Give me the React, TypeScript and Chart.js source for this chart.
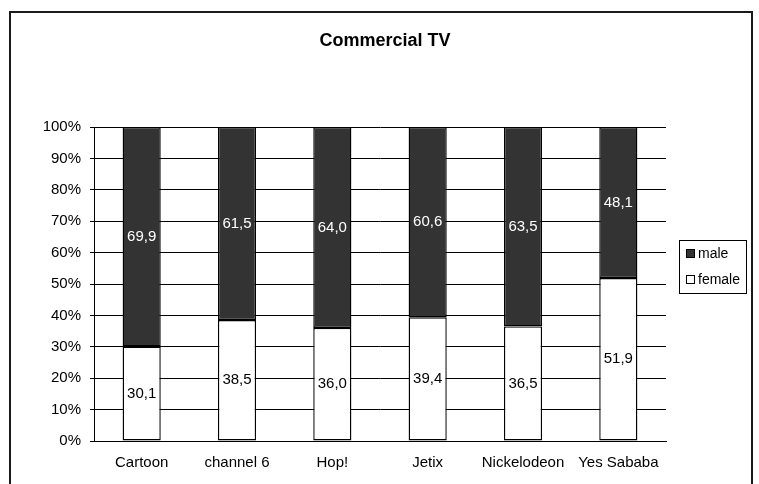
import React, { useEffect, useRef } from "react";
import { Chart, registerables } from "chart.js";

Chart.register(...registerables);

const title = "Commercial TV";
const categories = ["Cartoon", "channel 6", "Hop!", "Jetix", "Nickelodeon", "Yes Sababa"];
const femaleValues = [30.1, 38.5, 36.0, 39.4, 36.5, 51.9];
const maleValues = [69.9, 61.5, 64.0, 60.6, 63.5, 48.1];
const yTickValues = [0, 10, 20, 30, 40, 50, 60, 70, 80, 90, 100];

const FONT = "'Liberation Sans', Arial, sans-serif";

const framePlugin = {
  id: "frame",
  beforeDraw(chart: any) {
    const ctx = chart.ctx;
    ctx.save();
    ctx.fillStyle = "#ffffff";
    ctx.fillRect(0, 0, chart.width, chart.height);
    ctx.strokeStyle = "#1a1a1a";
    ctx.lineWidth = 2;
    ctx.strokeRect(10, 12, 742, 500);
    ctx.restore();
  },
};

const titlePlugin = {
  id: "customTitle",
  afterDraw(chart: any) {
    const ctx = chart.ctx;
    ctx.save();
    ctx.font = `bold 18px ${FONT}`;
    ctx.fillStyle = "#000";
    ctx.textAlign = "center";
    ctx.textBaseline = "alphabetic";
    ctx.fillText(title, 385, 46);
    ctx.restore();
  },
};

const valueLabelPlugin = {
  id: "valueLabels",
  afterDatasetsDraw(chart: any) {
    const ctx = chart.ctx;
    ctx.save();
    ctx.font = `15px ${FONT}`;
    ctx.textAlign = "center";
    ctx.textBaseline = "middle";
    chart.data.datasets.forEach((ds: any, di: number) => {
      const meta = chart.getDatasetMeta(di);
      meta.data.forEach((el: any, i: number) => {
        const v = ds.data[i] as number;
        const y = (el.y + el.base) / 2;
        ctx.fillStyle = ds.labelColor;
        ctx.fillText(v.toFixed(1).replace(".", ","), el.x, y);
      });
    });
    ctx.restore();
  },
};

const legendPlugin = {
  id: "customLegend",
  afterDraw(chart: any) {
    const ctx = chart.ctx;
    ctx.save();
    ctx.strokeStyle = "#000";
    ctx.lineWidth = 1;
    ctx.strokeRect(679.5, 240.5, 67, 53);
    const items = [...chart.data.datasets].reverse();
    ctx.font = `14px ${FONT}`;
    ctx.textBaseline = "middle";
    ctx.textAlign = "left";
    items.forEach((ds: any, i: number) => {
      const cy = 254 + i * 26;
      ctx.fillStyle = ds.backgroundColor;
      ctx.fillRect(686.5, cy - 4.5, 8, 8);
      ctx.strokeStyle = "#000";
      ctx.strokeRect(686.5, cy - 4.5, 8, 8);
      ctx.fillStyle = "#000";
      ctx.fillText(ds.label, 698, cy);
    });
    ctx.restore();
  },
};

export default function App() {
  const canvasRef = useRef<HTMLCanvasElement | null>(null);

  useEffect(() => {
    if (!canvasRef.current) return;
    Chart.defaults.font.family = FONT;
    const chart = new Chart(canvasRef.current, {
      type: "bar",
      data: {
        labels: categories,
        datasets: [
          {
            label: "female",
            data: femaleValues,
            backgroundColor: "#ffffff",
            borderColor: "#000000",
            borderWidth: 1.4,
            borderSkipped: false,
            barPercentage: 0.4,
            categoryPercentage: 1,
            labelColor: "#000000",
          } as any,
          {
            label: "male",
            data: maleValues,
            backgroundColor: "#333333",
            borderColor: "#000000",
            borderWidth: 1.4,
            borderSkipped: false,
            barPercentage: 0.4,
            categoryPercentage: 1,
            labelColor: "#ffffff",
          } as any,
        ],
      },
      options: {
        animation: false,
        responsive: false,
        devicePixelRatio: 1,
        layout: { padding: { left: 0, top: 127, right: 93, bottom: 0 } },
        plugins: {
          legend: { display: false },
          title: { display: false },
          tooltip: { enabled: false },
        },
        scales: {
          x: {
            stacked: true,
            afterFit: (s: any) => {
              s.height = 43;
            },
            grid: { display: true, drawOnChartArea: false, drawTicks: false },
            border: { display: true, color: "#000", width: 1 },
            ticks: { color: "#000", font: { size: 15, family: FONT }, padding: 13, maxRotation: 0, autoSkip: false },
          },
          y: {
            stacked: true,
            min: 0,
            max: 100,
            afterFit: (s: any) => {
              s.width = 94;
            },
            afterBuildTicks: (s: any) => {
              s.ticks = yTickValues.map((v) => ({ value: v }));
            },
            grid: { color: "#000", lineWidth: 1, tickLength: 4, tickColor: "#000" },
            border: { display: true, color: "#000", width: 1 },
            ticks: {
              color: "#000",
              font: { size: 15, family: FONT },
              padding: 9,
              callback: (v: any) => `${v}%`,
            },
          },
        },
      },
      plugins: [framePlugin, titlePlugin, valueLabelPlugin, legendPlugin],
    });
    return () => chart.destroy();
  }, []);

  return (
    <div style={{ position: "fixed", left: 0, top: 0, width: 759, height: 484 }}>
      <canvas ref={canvasRef} width={759} height={484} style={{ display: "block" }} />
    </div>
  );
}
